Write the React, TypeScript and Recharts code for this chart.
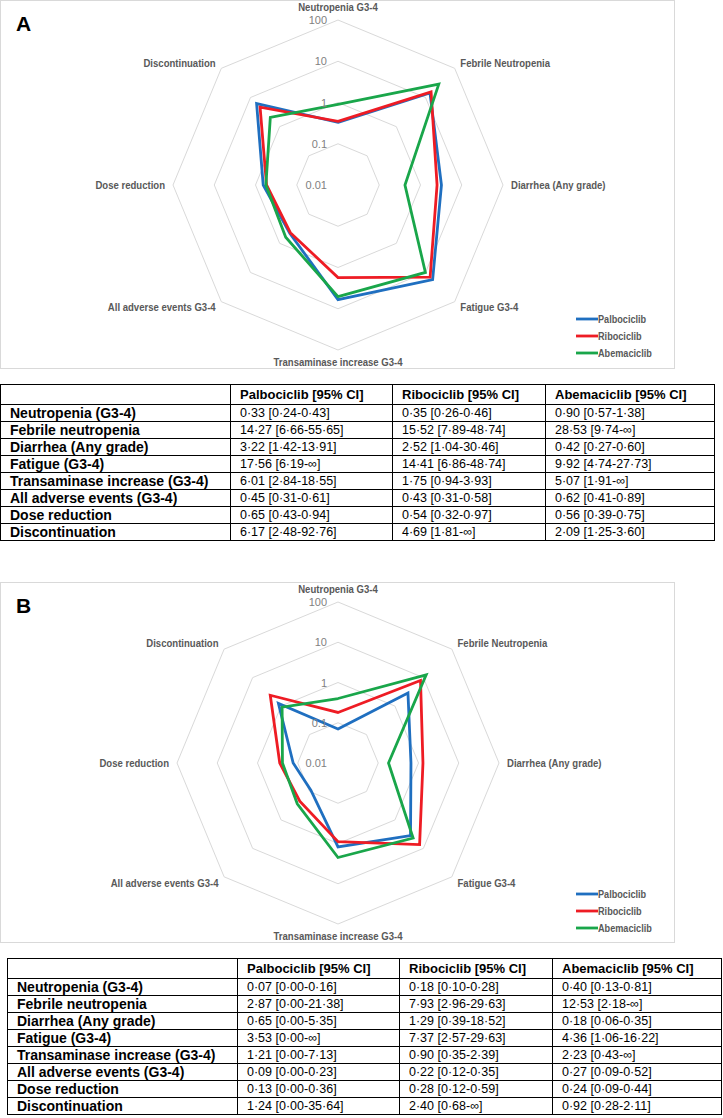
import React from 'react';
import { RadarChart, Radar, PolarGrid, PolarAngleAxis, PolarRadiusAxis, Legend } from 'recharts';

// ---------- data ----------
const categories = [
  'Neutropenia G3-4',
  'Febrile Neutropenia',
  'Diarrhea (Any grade)',
  'Fatigue G3-4',
  'Transaminase increase G3-4',
  'All adverse events G3-4',
  'Dose reduction',
  'Discontinuation',
];
const rowLabels = [
  'Neutropenia (G3-4)',
  'Febrile neutropenia',
  'Diarrhea (Any grade)',
  'Fatigue (G3-4)',
  'Transaminase increase (G3-4)',
  'All adverse events (G3-4)',
  'Dose reduction',
  'Discontinuation',
];
const seriesNames = ['Palbociclib', 'Ribociclib', 'Abemaciclib'];
const radiusTicks = [0.01, 0.1, 1, 10, 100];

// Panel A
const palboA = [0.33, 14.27, 3.22, 17.56, 6.01, 0.45, 0.65, 6.17];
const riboA = [0.35, 15.52, 2.52, 14.41, 1.75, 0.43, 0.54, 4.69];
const abemaA = [0.9, 28.53, 0.42, 9.92, 5.07, 0.62, 0.56, 2.09];
const palboCIA = ['0.24-0.43', '6.66-55.65', '1.42-13.91', '6.19-∞', '2.84-18.55', '0.31-0.61', '0.43-0.94', '2.48-92.76'];
const riboCIA = ['0.26-0.46', '7.89-48.74', '1.04-30.46', '6.86-48.74', '0.94-3.93', '0.31-0.58', '0.32-0.97', '1.81-∞'];
const abemaCIA = ['0.57-1.38', '9.74-∞', '0.27-0.60', '4.74-27.73', '1.91-∞', '0.41-0.89', '0.39-0.75', '1.25-3.60'];

// Panel B
const palboB = [0.07, 2.87, 0.65, 3.53, 1.21, 0.09, 0.13, 1.24];
const riboB = [0.18, 7.93, 1.29, 7.37, 0.9, 0.22, 0.28, 2.4];
const abemaB = [0.4, 12.53, 0.18, 4.36, 2.23, 0.27, 0.24, 0.92];
const palboCIB = ['0.00-0.16', '0.00-21.38', '0.00-5.35', '0.00-∞', '0.00-7.13', '0.00-0.23', '0.00-0.36', '0.00-35.64'];
const riboCIB = ['0.10-0.28', '2.96-29.63', '0.39-18.52', '2.57-29.63', '0.35-2.39', '0.12-0.35', '0.12-0.59', '0.68-∞'];
const abemaCIB = ['0.13-0.81', '2.18-∞', '0.06-0.35', '1.06-16.22', '0.43-∞', '0.09-0.52', '0.09-0.44', '0.28-2.11'];

// ---------- styles ----------
const COLORS = ['#1F6FC0', '#EE1C24', '#19A64A'];
const SANS = "'Liberation Sans', Arial, sans-serif";
const LABEL_SQUEEZE = 0.87;

const dot = (s: string) => s.replace(/\./g, '\u00B7');

type PanelProps = {
  letter: string;
  top: number;
  height: number;
  cy: number;
  r: number;
  palbo: number[];
  ribo: number[];
  abema: number[];
  legendTop: number;
};

function RadarPanel({ letter, top, height, cy, r, palbo, ribo, abema, legendTop }: PanelProps) {
  const data = categories.map((name, i) => ({ name, palbo: palbo[i], ribo: ribo[i], abema: abema[i] }));
  const cx = 338;
  const angleTick = (p: any) => {
    const { x, y, textAnchor, payload } = p;
    let dy = 4;
    if (textAnchor === 'middle') dy = y < cy ? -1 : 8;
    return (
      <g transform={`translate(${x} ${y + dy}) scale(${LABEL_SQUEEZE} 1)`}>
        <text x={0} y={0} textAnchor={textAnchor} fontFamily={SANS} fontWeight="bold" fontSize={11} fill="#595959">
          {payload.value}
        </text>
      </g>
    );
  };
  const radiusTick = (p: any) => {
    const { x, y, payload } = p;
    return (
      <text x={x - 11} y={y} dy={4} textAnchor="end" fontFamily={SANS} fontSize={11} fill="#7F7F7F">
        {String(payload.value)}
      </text>
    );
  };
  const legendContent = (p: any) => {
    const items = [...(p.payload || [])].sort(
      (a: any, b: any) => seriesNames.indexOf(a.value) - seriesNames.indexOf(b.value)
    );
    return (
      <div style={{ fontFamily: SANS, fontWeight: 'bold', fontSize: 11, color: '#595959' }}>
        {items.map((e: any) => (
          <div key={e.value} style={{ height: 17, display: 'flex', alignItems: 'center' }}>
            <svg width={22} height={6}>
              <line x1={0} y1={3} x2={22} y2={3} stroke={e.color} strokeWidth={2.8} />
            </svg>
            <span style={{ display: 'inline-block', transform: 'scaleX(0.83)', transformOrigin: 'left center' }}>{e.value}</span>
          </div>
        ))}
      </div>
    );
  };
  return (
    <div style={{ position: 'absolute', left: 0, top, width: 675, height }}>
      <div style={{ position: 'absolute', left: 0, top: 0, width: 675, height, border: '1px solid #D9D9D9', boxSizing: 'border-box' }} />
      <div style={{ position: 'absolute', left: 16, top: 12, fontFamily: SANS, fontWeight: 'bold', fontSize: 21, color: '#000' }}>
        {letter}
      </div>
      <div style={{ position: 'absolute', left: 0, top: 0 }}>
        <RadarChart width={675} height={height} data={data} cx={cx} cy={cy} outerRadius={r} margin={{ top: 0, right: 0, bottom: 0, left: 0 }}>
          <PolarGrid gridType="polygon" radialLines={false} stroke="#D9D9D9" strokeWidth={1} />
          <PolarAngleAxis dataKey="name" tick={angleTick} axisLine={false} tickLine={false} />
          <PolarRadiusAxis
            angle={90}
            scale="log"
            domain={[0.01, 100]}
            ticks={radiusTicks as any}
            tick={radiusTick}
            axisLine={false}
            tickLine={false}
            allowDataOverflow
          />
          <Radar name={seriesNames[0]} dataKey="palbo" stroke={COLORS[0]} strokeWidth={2.8} fill="none" fillOpacity={0} dot={false} isAnimationActive={false} />
          <Radar name={seriesNames[1]} dataKey="ribo" stroke={COLORS[1]} strokeWidth={2.8} fill="none" fillOpacity={0} dot={false} isAnimationActive={false} />
          <Radar name={seriesNames[2]} dataKey="abema" stroke={COLORS[2]} strokeWidth={2.8} fill="none" fillOpacity={0} dot={false} isAnimationActive={false} />
          <Legend
            layout="vertical"
            align="left"
            verticalAlign="top"
            content={legendContent}
            wrapperStyle={{ position: 'absolute', left: 576, top: legendTop, width: 100 }}
          />
        </RadarChart>
      </div>
    </div>
  );
}

type TableProps = { left: number; top: number; palbo: number[]; ribo: number[]; abema: number[]; palboCI: string[]; riboCI: string[]; abemaCI: string[] };

function DataTable({ left, top, palbo, ribo, abema, palboCI, riboCI, abemaCI }: TableProps) {
  const cell: React.CSSProperties = { border: '1px solid #000', padding: '0 0 0 9px', whiteSpace: 'nowrap', overflow: 'hidden' };
  const fmt = (v: number, ci: string) => `${dot(v.toFixed(2))} [${dot(ci)}]`;
  return (
    <table
      style={{
        position: 'absolute',
        left,
        top,
        width: 714,
        borderCollapse: 'collapse',
        tableLayout: 'fixed',
        fontFamily: SANS,
        fontSize: 12.5,
        color: '#000',
        border: '1.5px solid #000',
        lineHeight: '15px',
      }}
    >
      <colgroup>
        <col style={{ width: 230 }} />
        <col style={{ width: 162 }} />
        <col style={{ width: 153 }} />
        <col style={{ width: 169 }} />
      </colgroup>
      <tbody>
        <tr style={{ height: 20 }}>
          <td style={cell}></td>
          {seriesNames.map((s) => (
            <td key={s} style={{ ...cell, fontWeight: 'bold', fontSize: 13 }}>{`${s} [95% CI]`}</td>
          ))}
        </tr>
        {rowLabels.map((lab, i) => (
          <tr key={lab} style={{ height: 17 }}>
            <td style={{ ...cell, fontWeight: 'bold', fontSize: 14 }}>{lab}</td>
            <td style={cell}>{fmt(palbo[i], palboCI[i])}</td>
            <td style={cell}>{fmt(ribo[i], riboCI[i])}</td>
            <td style={cell}>{fmt(abema[i], abemaCI[i])}</td>
          </tr>
        ))}
      </tbody>
    </table>
  );
}

export default function App() {
  return (
    <div style={{ position: 'absolute', left: 0, top: 0, width: 723, height: 1118, background: '#fff', overflow: 'hidden' }}>
      <RadarPanel letter="A" top={0} height={369} cy={185} r={165} palbo={palboA} ribo={riboA} abema={abemaA} legendTop={310} />
      <DataTable left={0} top={384} palbo={palboA} ribo={riboA} abema={abemaA} palboCI={palboCIA} riboCI={riboCIA} abemaCI={abemaCIA} />
      <RadarPanel letter="B" top={582} height={361} cy={181} r={161} palbo={palboB} ribo={riboB} abema={abemaB} legendTop={303} />
      <DataTable left={7} top={958} palbo={palboB} ribo={riboB} abema={abemaB} palboCI={palboCIB} riboCI={riboCIB} abemaCI={abemaCIB} />
    </div>
  );
}
